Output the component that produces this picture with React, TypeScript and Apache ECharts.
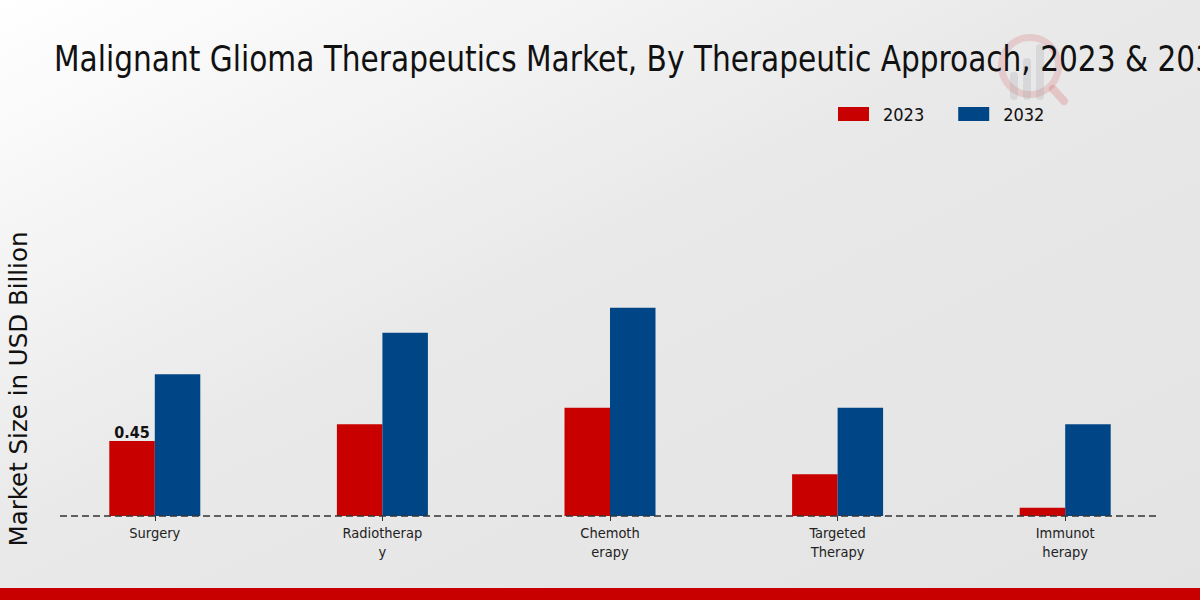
import React, { useEffect, useRef } from "react";
import * as echarts from "echarts";

const categories = ["Surgery", "Radiotherap\ny", "Chemoth\nerapy", "Targeted\nTherapy", "Immunot\nherapy"];
const values2023 = [0.45, 0.55, 0.65, 0.25, 0.05];
const values2032 = [0.85, 1.1, 1.25, 0.65, 0.55];
const seriesNames = ["2023", "2032"];
const colors = ["#c80000", "#004687"];
const title = "Malignant Glioma Therapeutics Market, By Therapeutic Approach, 2023 & 2032";
const yName = "Market Size in USD Billion";

const FONT = "'DejaVu Sans Condensed', 'DejaVu Sans', sans-serif";

export default function App() {
  const ref = useRef<HTMLDivElement>(null);
  useEffect(() => {
    document.body.style.margin = "0";
    const chart = echarts.init(ref.current!, null, { renderer: "svg" });
    chart.setOption({
      animation: false,
      backgroundColor: {
        type: "linear",
        x: 0, y: 0, x2: 1, y2: 1,
        colorStops: [
          { offset: 0, color: "#ffffff" },
          { offset: 0.45, color: "#e9e9e9" },
          { offset: 1, color: "#e3e3e3" },
        ],
      },
      legend: {
        data: seriesNames,
        left: 838,
        top: 105,
        padding: 0,
        itemWidth: 31,
        itemHeight: 14,
        itemGap: 34,
        icon: "rect",
        textStyle: { fontFamily: FONT, fontSize: 18, color: "#111", padding: [0, 0, 0, 9] },
      },
      grid: { left: 41, right: 21, top: 266, bottom: 84 },
      xAxis: {
        type: "category",
        data: categories,
        axisLine: { show: true, lineStyle: { color: "rgba(0,0,0,0)" } },
        axisTick: { show: true, alignWithLabel: true, length: 5, lineStyle: { color: "#333" } },
        axisLabel: {
          fontFamily: FONT,
          fontSize: 14.5,
          color: "#222",
          lineHeight: 19,
          margin: 7,
          interval: 0,
        },
      },
      yAxis: { type: "value", min: 0, max: 1.5, show: false, splitLine: { show: false } },
      graphic: [
        {
          type: "text",
          x: 54,
          y: 58,
          scaleX: 0.915,
          style: {
            text: title,
            fontFamily: FONT,
            fontSize: 36,
            fill: "#111",
            verticalAlign: "middle",
          },
        },
        {
          type: "line",
          shape: { x1: 60, y1: 516, x2: 1160, y2: 516 },
          style: { stroke: "#333", lineWidth: 1.3, lineDash: [7, 4] },
          z: 10,
        },
        {
          type: "text",
          x: 18,
          y: 389,
          rotation: Math.PI / 2,
          style: {
            text: yName,
            fontFamily: "'DejaVu Sans', sans-serif",
            fontSize: 24.5,
            fill: "#111",
            align: "center",
            verticalAlign: "middle",
          },
        },
        {
          type: "ring",
          shape: { cx: 1030, cy: 66, r: 32, r0: 25 },
          style: { fill: "rgba(200,0,0,0.13)" },
          z: -1,
        },
        {
          type: "line",
          shape: { x1: 1053, y1: 89, x2: 1064, y2: 101 },
          style: { stroke: "rgba(200,0,0,0.15)", lineWidth: 8, lineCap: "round" },
          z: -1,
        },
        { type: "rect", shape: { x: 1010, y: 72, width: 8, height: 28, r: 4 }, style: { fill: "rgba(150,150,160,0.2)" }, z: -1 },
        { type: "rect", shape: { x: 1023, y: 58, width: 8, height: 42, r: 4 }, style: { fill: "rgba(150,150,160,0.2)" }, z: -1 },
        { type: "rect", shape: { x: 1036, y: 44, width: 8, height: 56, r: 4 }, style: { fill: "rgba(150,150,160,0.2)" }, z: -1 },
        {
          type: "rect",
          shape: { x: 0, y: 588, width: 1200, height: 12 },
          style: { fill: "#c80000" },
        },
      ],
      series: [
        {
          name: seriesNames[0],
          type: "bar",
          data: values2023.map((v, i) =>
            i === 0
              ? {
                  value: v,
                  label: {
                    show: true,
                    position: "top",
                    fontFamily: FONT,
                    fontWeight: "bold",
                    fontSize: 16,
                    color: "#111",
                    distance: 1,
                  },
                }
              : v
          ),
          barWidth: 45.5,
          barGap: "0%",
          itemStyle: { color: colors[0] },
        },
        {
          name: seriesNames[1],
          type: "bar",
          data: values2032,
          barWidth: 45.5,
          barGap: "0%",
          itemStyle: { color: colors[1] },
        },
      ],
    });
    return () => chart.dispose();
  }, []);
  return <div ref={ref} style={{ width: 1200, height: 600 }} />;
}
